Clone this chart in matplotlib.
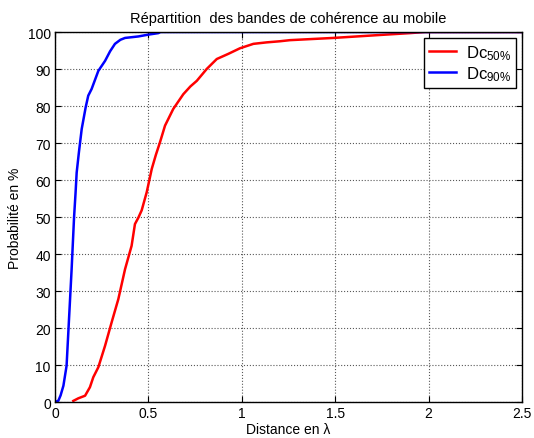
import matplotlib
matplotlib.use('Agg')
from matplotlib import pyplot as plt

# Dc 50% curve (red)
dc50_x = [0.098, 0.125, 0.161, 0.187, 0.205, 0.232, 0.268, 0.303, 0.339, 0.375,
          0.41, 0.428, 0.446, 0.464, 0.491, 0.518, 0.540, 0.562, 0.589, 0.633,
          0.687, 0.725, 0.759, 0.812, 0.866, 0.928, 0.99, 1.062, 1.133, 1.204,
          1.258, 1.49, 1.74, 1.9, 1.98, 2.5]
dc50_y = [0.3, 1.0, 1.7, 4.0, 6.7, 9.4, 15.2, 21.5, 27.8, 35.9,
          42.2, 48.1, 49.8, 51.8, 56.7, 63.0, 66.8, 70.2, 74.7, 79.2,
          83.2, 85.3, 86.8, 90.0, 92.7, 94.1, 95.6, 96.8, 97.2, 97.5,
          97.8, 98.4, 99.2, 99.7, 100.0, 100.0]

# Dc 90% curve (blue)
dc90_x = [0.0, 0.018, 0.030, 0.045, 0.062, 0.075, 0.089, 0.102, 0.110, 0.116,
          0.128, 0.143, 0.164, 0.178, 0.196, 0.232, 0.268, 0.295, 0.321, 0.350,
          0.375, 0.446, 0.5, 0.553, 0.565, 2.5]
dc90_y = [0.0, 0.35, 1.8, 4.4, 9.8, 22.4, 35.9, 49.9, 56.5, 62.0,
          67.5, 73.8, 79.6, 82.8, 84.6, 89.5, 92.2, 94.8, 96.8, 97.9,
          98.4, 98.8, 99.3, 99.7, 100.0, 100.0]

plt.rcParams['font.family'] = ['Liberation Sans', 'DejaVu Sans']
plt.rcParams['font.size'] = 10
plt.rcParams['mathtext.fontset'] = 'custom'
plt.rcParams['mathtext.rm'] = 'Liberation Sans'
plt.rcParams['mathtext.it'] = 'Liberation Sans'

fig = plt.figure(figsize=(5.34, 4.39), dpi=100)
ax = fig.add_axes([0.103, 0.082, 0.8745, 0.8428])

ax.plot(dc50_x, dc50_y, color='red', lw=1.8, label=r'$\mathrm{Dc}_{50\%}$')
ax.plot(dc90_x, dc90_y, color='blue', lw=1.8, label=r'$\mathrm{Dc}_{90\%}$')

ax.set_xlim(0, 2.5)
ax.set_ylim(0, 100)
ax.set_xticks([0, 0.5, 1, 1.5, 2, 2.5])
ax.set_xticklabels(['0', '0.5', '1', '1.5', '2', '2.5'])
ax.set_yticks(range(0, 101, 10))
ax.tick_params(direction='in', top=True, right=True, length=4, pad=3)
ax.grid(True, linestyle=':', color='0.35', lw=0.8)
for s in ax.spines.values():
    s.set_linewidth(1.0)

ax.set_title('Répartition  des bandes de cohérence au mobile', fontsize=10.5, pad=7)
ax.set_xlabel('Distance en λ', labelpad=1)
ax.set_ylabel('Probabilité en %', labelpad=4)

leg = ax.legend(loc='upper right', fancybox=False, edgecolor='black', framealpha=1,
                fontsize=12, handlelength=1.6, borderaxespad=0.35,
                labelspacing=0.15, borderpad=0.3, handletextpad=0.6)
leg.get_frame().set_linewidth(1.0)

plt.savefig('out.png', dpi=100, facecolor='white')
plt.close()
